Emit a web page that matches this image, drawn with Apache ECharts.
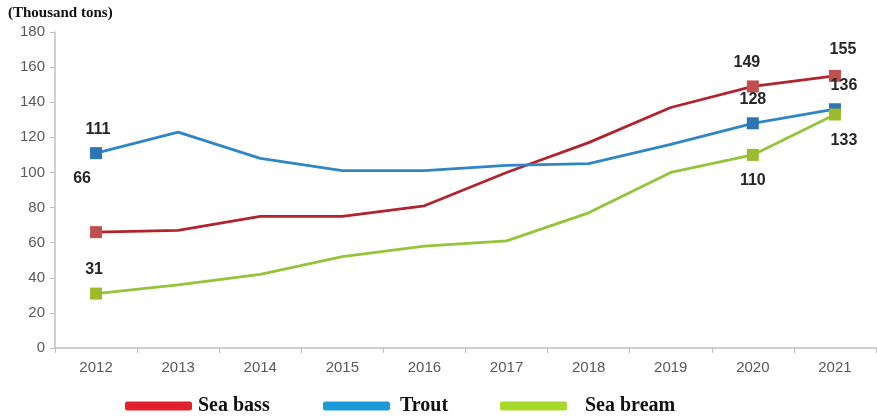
<!DOCTYPE html>
<html><head><meta charset="utf-8">
<script src="https://cdn.jsdelivr.net/npm/echarts@6/dist/echarts.min.js"></script>
<style>html,body{margin:0;padding:0;background:#fff}#c{width:877px;height:418px}</style>
</head><body><div id="c"></div>
<script>
const years = ['2012','2013','2014','2015','2016','2017','2018','2019','2020','2021'];
const seaBass = [66, 67, 75, 75, 81, 100, 117, 137, 149, 155];
const trout = [111, 123, 108, 101, 101, 104, 105, 116, 128, 136];
const seaBream = [31, 36, 42, 52, 58, 61, 77, 100, 110, 133];
const yTicks = [0, 20, 40, 60, 80, 100, 120, 140, 160, 180];
const markedIdx = [0, 8, 9];

const labelOffsets = {
  'Sea bass': {0: [-14, -30, 'top'], 8: [-6, 0, 'top'], 9: [8, -2, 'top']},
  'Trout': {0: [2, 0, 'top'], 8: [0, 0, 'top'], 9: [9, 0, 'top']},
  'Sea bream': {0: [-2, 0, 'top'], 8: [0, 2, 'bottom'], 9: [9, 2, 'bottom']}
};

function build(name, values, lineColor, markColor, legendColor) {
  return {
    name: name, type: 'line', symbol: 'none',
    lineStyle: {color: lineColor, width: 2.8},
    itemStyle: {color: legendColor},
    z: name === 'Sea bream' ? 4 : 3,
    data: values.map((v, i) => {
      if (markedIdx.indexOf(i) < 0) return v;
      const o = labelOffsets[name][i];
      return {
        value: v, symbol: 'rect', symbolSize: 12,
        itemStyle: {color: markColor},
        label: {show: true, position: o[2], distance: 10, offset: [o[0], o[1]],
          color: '#262626', fontWeight: 'bold', fontSize: 16, fontFamily: 'Liberation Sans, Arial'}
      };
    })
  };
}

const chart = echarts.init(document.getElementById('c'));
const legendCommon = {
  top: 396, padding: 0, itemWidth: 67, itemHeight: 9, icon: 'roundRect',
  textStyle: {fontFamily: 'Liberation Serif, Times New Roman', fontWeight: 'bold', fontSize: 20, color: '#111'}
};
chart.setOption({
  animation: false,
  grid: {left: 55, right: 1, top: 32, bottom: 70},
  legend: [
    Object.assign({}, legendCommon, {data: ['Sea bass'], left: 125, itemGap: 6, textStyle: Object.assign({}, legendCommon.textStyle, {padding: [0,0,0,1]})}),
    Object.assign({}, legendCommon, {data: ['Trout'], left: 323, textStyle: Object.assign({}, legendCommon.textStyle, {padding: [0,0,0,5]})}),
    Object.assign({}, legendCommon, {data: ['Sea bream'], left: 500, textStyle: Object.assign({}, legendCommon.textStyle, {padding: [0,0,0,13]})})
  ],
  graphic: [{type: 'text', left: 8, top: 6,
    style: {text: '(Thousand tons)', font: 'bold 15px "Liberation Serif", "Times New Roman"', fill: '#111'}}],
  xAxis: {
    type: 'category', data: years, boundaryGap: true,
    axisLine: {lineStyle: {color: '#bfbfbf', width: 1.5}},
    axisTick: {show: true, length: 5, lineStyle: {color: '#bfbfbf'}},
    axisLabel: {color: '#595959', fontSize: 15, fontFamily: 'Liberation Sans, Arial', margin: 12}
  },
  yAxis: {
    type: 'value', min: 0, max: 180, interval: 20,
    axisLine: {show: true, lineStyle: {color: '#bfbfbf', width: 1.5}},
    axisTick: {show: true, length: 5, lineStyle: {color: '#bfbfbf'}},
    splitLine: {show: false},
    axisLabel: {color: '#595959', fontSize: 15, fontFamily: 'Liberation Sans, Arial', margin: 10,
      formatter: v => yTicks.indexOf(v) >= 0 ? String(v) : ''}
  },
  series: [
    build('Sea bass', seaBass, '#b0252d', '#c0504d', '#e0202a'),
    build('Trout', trout, '#2f86c5', '#2e75b6', '#1a9ad6'),
    build('Sea bream', seaBream, '#93c43a', '#9bbb2c', '#a6d92a')
  ]
});
</script></body></html>
